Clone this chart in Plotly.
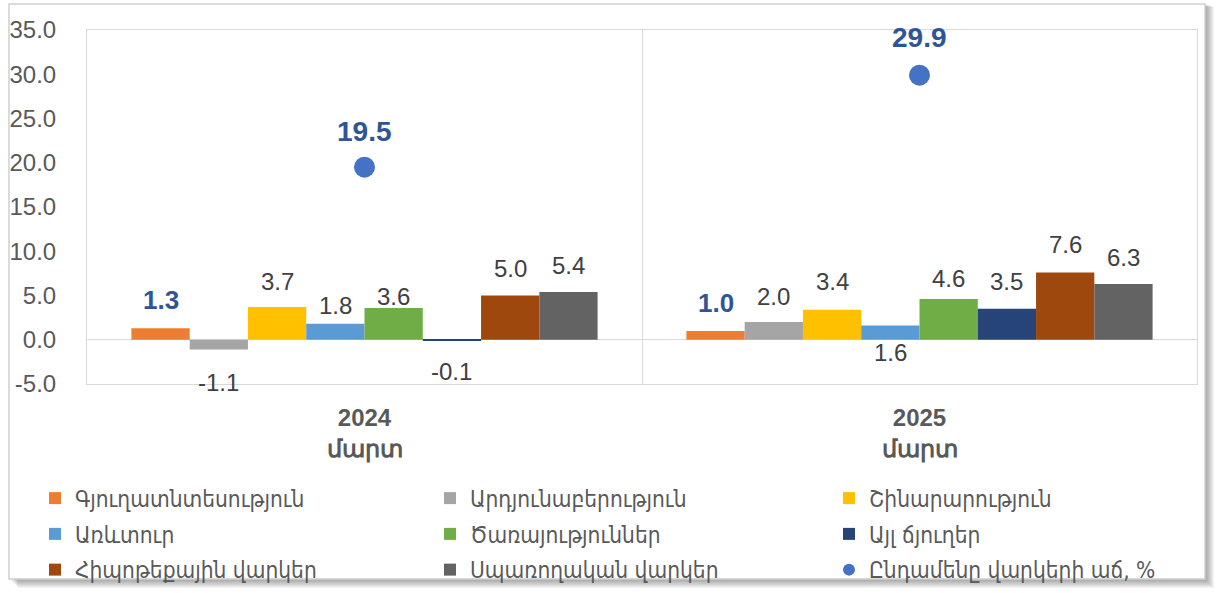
import plotly.graph_objects as go

# ---------------- data ----------------
categories = ["2024", "2025"]
month_label = "մարտ"
series_names = [
    "Գյուղատնտեսություն", "Արդյունաբերություն", "Շինարարություն",
    "Առևտուր", "Ծառայություններ", "Այլ ճյուղեր",
    "Հիպոթեքային վարկեր", "Սպառողական վարկեր",
]
agriculture = [1.3, 1.0]
industry = [-1.1, 2.0]
construction = [3.7, 3.4]
trade = [1.8, 1.6]
services = [3.6, 4.6]
other_branches = [-0.1, 3.5]
mortgage = [5.0, 7.6]
consumer = [5.4, 6.3]
total_name = "Ընդամենը վարկերի աճ, %"
total_growth = [19.5, 29.9]
y_ticks = [-5, 0, 5, 10, 15, 20, 25, 30, 35]

series_values = [agriculture, industry, construction, trade, services,
                 other_branches, mortgage, consumer]

# ---------------- styling ----------------
colors = ["#ED7D31", "#A5A5A5", "#FFC000", "#5B9BD5", "#70AD47",
          "#264478", "#9E480E", "#636363"]
W, H = 1219, 593
ML, MR, MT, MB = 87, 22, 30, 209
PW, PH = W - ML - MR, H - MT - MB
BARGAP = 0.16
NARROW = "Liberation Sans Narrow, Arial Narrow, Liberation Sans, sans-serif"
ARM = "DejaVu Sans Condensed, DejaVu Sans, sans-serif"

# label pixel offsets (vertical, from bar end) per series per category
label_shift = [
    [28, 28], [-33, 26], [26, 28], [18, -27],
    [11, 21], [-31, 27], [27, 28], [26, 27],
]
legend_of = ["legend", "legend2", "legend3"] * 3

fig = go.Figure()
for i, (name, vals) in enumerate(zip(series_names, series_values)):
    fig.add_trace(go.Bar(
        x=categories, y=vals, name=name, marker_color=colors[i],
        marker_line_width=0, legend=legend_of[i], legendgroup=name,
        hoverinfo="skip",
    ))
fig.add_trace(go.Scatter(
    x=categories, y=total_growth, name=total_name, mode="markers",
    marker=dict(size=21, color="#4472C4"), legend=legend_of[8],
    legendgroup=total_name, hoverinfo="skip",
))

# data labels (x given as category index)
bar_w = PW / len(categories) * (1 - BARGAP) / len(series_values)
annotations = []
for i, vals in enumerate(series_values):
    for j, v in enumerate(vals):
        bold = i == 0
        annotations.append(dict(
            x=j, y=v, xref="x", yref="y",
            text=(f"<b>{v:.1f}</b>" if bold else f"{v:.1f}"),
            showarrow=False, xanchor="center", yanchor="middle",
            xshift=(i - (len(series_values) - 1) / 2) * bar_w,
            yshift=label_shift[i][j],
            font=dict(family=NARROW, size=26 if bold else 24,
                      color="#2F5597" if bold else "#404040"),
        ))
for j, v in enumerate(total_growth):
    annotations.append(dict(
        x=j, y=v, xref="x", yref="y", text=f"<b>{v:.1f}</b>",
        showarrow=False, xanchor="center", yanchor="middle",
        yshift=36 if j == 0 else 38,
        font=dict(family=NARROW, size=28, color="#2F5597"),
    ))

def px(xp):
    return (xp - ML) / PW

def py(yp):
    return (MT + PH - yp) / PH

shapes = []
# shadow of the outer frame
for k in range(1, 10):
    shapes.append(dict(type="rect", xref="paper", yref="paper", layer="below",
                       x0=px(9 + k), x1=px(1205 + k), y0=py(579 + k), y1=py(4 + k * 0.3),
                       line_width=0, fillcolor="rgba(0,0,0,0.045)"))
shapes.append(dict(type="rect", xref="paper", yref="paper", layer="below",
                   x0=px(9), x1=px(1205), y0=py(579), y1=py(4),
                   line=dict(color="#D0D0D0", width=1.5), fillcolor="white"))

legend_common = dict(
    orientation="v", font=dict(family=ARM, size=22.5, color="#595959"),
    bgcolor="rgba(0,0,0,0)", yanchor="top", tracegroupgap=3.5,
    itemclick=False, itemdoubleclick=False, itemsizing="constant",
)

fig.update_layout(
    width=W, height=H,
    margin=dict(l=ML, r=MR, t=MT, b=MB, autoexpand=False),
    paper_bgcolor="white", plot_bgcolor="rgba(0,0,0,0)",
    barmode="group", bargap=BARGAP, bargroupgap=0,
    showlegend=True,
    legend=dict(x=px(35), y=py(477), **legend_common),
    legend2=dict(x=px(430), y=py(477), **legend_common),
    legend3=dict(x=px(829), y=py(477), **legend_common),
    annotations=annotations, shapes=shapes,
    xaxis=dict(
        type="category", categoryorder="array", categoryarray=categories,
        range=[-0.5, len(categories) - 0.5], autorange=False,
        tickmode="array", tickvals=categories,
        ticktext=[f"<b>{c}</b><br><b>{month_label}</b>" for c in categories],
        tickangle=0,
        tickfont=dict(family=NARROW, size=24, color="#595959"),
        showgrid=True, gridcolor="#D9D9D9", gridwidth=1, tickson="boundaries",
        ticks="", showline=True, linecolor="#D9D9D9", linewidth=1, mirror=True,
        ticklabelstandoff=12,
    ),
    yaxis=dict(
        range=[-5, 35], autorange=False, tickmode="array", tickvals=y_ticks,
        ticktext=[f"{t:.1f}" for t in y_ticks],
        tickfont=dict(family="Liberation Sans, Arial, sans-serif", size=24, color="#595959"),
        showgrid=False, zeroline=True, zerolinecolor="#D9D9D9", zerolinewidth=1,
        showline=True, linecolor="#D9D9D9", linewidth=1, mirror=True,
        ticks="", ticklabelstandoff=25,
    ),
)

fig.write_html("out.html", config={"displayModeBar": False},
               post_script="document.body.style.margin='0';document.body.style.padding='0';")
